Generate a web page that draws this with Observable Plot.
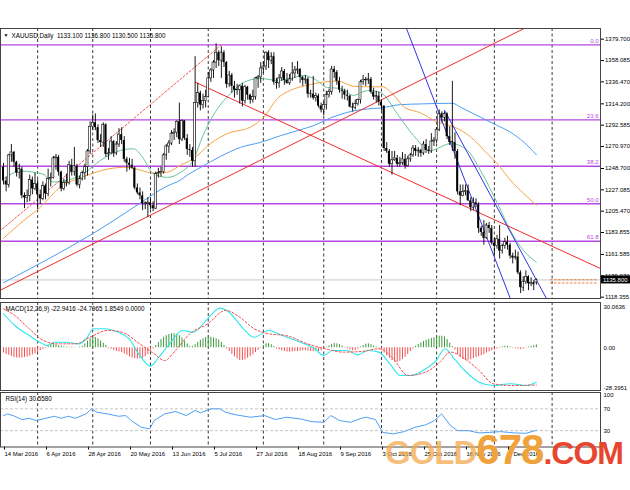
<!DOCTYPE html>
<html><head><meta charset="utf-8">
<script src="https://cdn.jsdelivr.net/npm/d3@7"></script>
<script src="https://cdn.jsdelivr.net/npm/@observablehq/plot@0.6"></script>
<style>
html,body{margin:0;padding:0;background:#fff;}
#wrap{position:relative;width:630px;height:490px;overflow:hidden;background:#fff;}
.pane{position:absolute;left:0;}
#wm{position:absolute;left:385px;top:429px;font-family:"Liberation Sans",Arial,sans-serif;font-weight:bold;white-space:nowrap;line-height:1;letter-spacing:-1px;}
</style></head><body>
<div id="wrap">
 <div class="pane" id="p1" style="top:28px"></div>
 <div class="pane" id="p2" style="top:300px"></div>
 <div class="pane" id="p3" style="top:391px"></div>
 <div id="wm"><span style="color:rgba(242,170,80,0.75);font-size:33px">GOLD</span><span style="color:#f0a23c;font-size:42px">678</span><span style="color:#e8452e;font-size:32px">.COM</span></div>
</div>
<script>
// ---------- data: daily XAUUSD candles, index 0 = 14 Mar 2016 ----------
const open = [1250,1236,1232,1262,1265,1255,1244,1248,1221,1219,
1221,1237,1228,1233,1222,1218,1231,1223,1238,1239,
1259,1260,1245,1228,1234,1234,1252,1245,1251,1232,
1238,1244,1250,1266,1291,1295,1290,1277,1275,1293,
1263,1264,1276,1264,1273,1283,1277,1258,1254,1252,
1249,1229,1224,1221,1213,1213,1214,1211,1208,1243,
1244,1245,1262,1271,1274,1284,1285,1296,1278,1297,
1279,1268,1267,1256,1315,1325,1313,1317,1321,1340,
1348,1356,1366,1358,1366,1356,1334,1343,1332,1328,
1328,1332,1317,1331,1323,1318,1321,1340,1341,1350,
1352,1366,1358,1362,1336,1335,1340,1347,1338,1335,
1339,1345,1348,1349,1341,1338,1339,1324,1324,1320,
1322,1312,1308,1313,1323,1326,1349,1346,1337,1328,
1327,1323,1322,1311,1310,1314,1318,1336,1338,1338,
1339,1326,1321,1322,1316,1312,1269,1266,1253,1257,
1259,1253,1254,1258,1251,1258,1262,1269,1266,1267,
1264,1273,1267,1266,1276,1277,1288,1304,1300,1304,
1281,1275,1275,1266,1225,1221,1225,1226,1216,1209,
1214,1212,1188,1184,1178,1191,1188,1173,1170,1177,
1165,1170,1174,1171,1160,1158,1159,1143,1128,1134,
1139,1132,1133,1133.1];
const high = [1254,1240,1263,1273,1266,1256,1253,1250,1224,1227,
1242,1240,1244,1237,1227,1235,1233,1248,1244,1261,
1263,1262,1246,1238,1243,1256,1258,1270,1253,1241,
1246,1253,1268,1296,1303,1304,1293,1283,1295,1294,
1269,1281,1277,1276,1289,1290,1281,1260,1259,1258,
1250,1233,1229,1225,1215,1219,1219,1215,1245,1249,
1250,1264,1273,1277,1287,1289,1297,1315,1298,1297,
1283,1273,1270,1362,1335,1327,1324,1328,1346,1350,
1358,1375,1368,1372,1368,1357,1347,1345,1337,1334,
1333,1335,1333,1332,1324,1328,1341,1343,1356,1357,
1367,1368,1366,1366,1340,1344,1351,1349,1345,1344,
1356,1352,1357,1350,1342,1343,1341,1328,1342,1325,
1324,1315,1316,1327,1329,1352,1352,1348,1341,1332,
1329,1328,1323,1315,1318,1319,1338,1343,1341,1345,
1341,1330,1327,1326,1318,1312,1275,1268,1266,1266,
1262,1260,1265,1263,1261,1264,1272,1272,1270,1268,
1276,1278,1271,1284,1280,1290,1308,1306,1306,1305,
1291,1337,1285,1268,1232,1232,1232,1232,1219,1219,
1218,1214,1190,1196,1193,1194,1191,1178,1181,1191,
1172,1178,1180,1173,1163,1166,1164,1145,1139,1145,
1140,1138,1135,1136.8];
const low = [1232,1225,1229,1255,1250,1240,1238,1218,1208,1214,
1215,1222,1226,1207,1212,1216,1217,1220,1230,1238,
1247,1241,1225,1226,1230,1232,1241,1241,1230,1228,
1236,1237,1241,1263,1287,1287,1274,1270,1270,1260,
1257,1263,1260,1262,1270,1273,1255,1245,1247,1248,
1227,1222,1217,1206,1207,1199,1207,1205,1207,1239,
1240,1243,1257,1264,1272,1277,1280,1273,1276,1277,
1262,1260,1250,1250,1310,1307,1309,1310,1320,1336,
1340,1350,1352,1340,1351,1330,1331,1325,1320,1323,
1314,1311,1314,1318,1314,1315,1318,1330,1335,1345,
1348,1350,1354,1333,1329,1330,1337,1333,1334,1333,
1337,1340,1344,1335,1332,1334,1320,1320,1318,1316,
1310,1305,1302,1308,1320,1323,1340,1333,1325,1319,
1318,1317,1310,1306,1308,1312,1314,1333,1332,1334,
1324,1318,1315,1312,1307,1266,1264,1250,1242,1256,
1250,1250,1252,1248,1250,1255,1260,1261,1260,1260,
1262,1264,1263,1264,1271,1274,1286,1295,1296,1278,
1272,1266,1258,1222,1211,1220,1221,1215,1205,1206,
1209,1183,1180,1171,1177,1183,1171,1161,1167,1157,
1162,1167,1166,1157,1152,1156,1141,1122,1124,1131,
1125,1129,1125,1130.5];
const close = [1236,1232,1262,1265,1255,1244,1248,1221,1219,1221,
1237,1228,1233,1222,1218,1231,1223,1238,1239,1259,
1260,1245,1228,1234,1234,1252,1245,1251,1232,1238,
1244,1250,1266,1291,1295,1290,1277,1275,1293,1263,
1264,1276,1264,1273,1283,1277,1258,1254,1252,1249,
1229,1224,1221,1213,1213,1214,1211,1208,1243,1244,
1245,1262,1271,1274,1284,1285,1296,1278,1297,1279,
1268,1267,1256,1315,1325,1313,1317,1321,1340,1348,
1356,1366,1358,1366,1356,1334,1343,1332,1328,1328,
1332,1317,1331,1323,1318,1321,1340,1341,1350,1352,
1366,1358,1362,1336,1335,1340,1347,1338,1335,1339,
1345,1348,1349,1341,1338,1339,1324,1324,1320,1322,
1312,1308,1313,1323,1326,1349,1346,1337,1328,1327,
1323,1322,1311,1310,1314,1318,1336,1338,1338,1339,
1326,1321,1322,1316,1312,1269,1266,1253,1257,1259,
1253,1254,1258,1251,1258,1262,1269,1266,1267,1264,
1273,1267,1266,1276,1277,1288,1304,1300,1304,1281,
1275,1275,1266,1225,1221,1225,1226,1216,1209,1214,
1212,1188,1184,1178,1191,1188,1173,1170,1177,1165,
1170,1174,1171,1160,1158,1159,1143,1128,1134,1139,
1132,1133,1131,1135.8];

// moving averages: [bar index, price]
const maGreen = [[0,1238],[6.5,1246],[15,1243],[19,1235],[24,1236.5],[30.5,1243.5],[37,1257],[44.6,1267],[49.5,1268.7],[53,1260],[57,1243.5],[62.5,1239.7],[67.4,1244.7],[72.4,1258],[76,1282],[80,1303],[86.5,1324.7],[91.4,1335.8],[97.9,1339.9],[104.4,1337.9],[109.3,1339.9],[114.3,1342.9],[118.1,1339.9],[123.4,1330.8],[128.4,1329.8],[133.3,1322.7],[138.7,1327.7],[143.6,1325.7],[150,1304.2],[156.2,1282.1],[162.7,1266.9],[165.3,1269],[170.3,1274],[176.8,1266.9],[181.7,1246.7],[188.2,1213.2],[193.1,1185.9],[198.1,1165.6],[203,1153.8]];
const maOrange = [[0,1178],[7.7,1196],[14.1,1209.5],[21.7,1230],[28,1238],[33.1,1243],[39.5,1248],[47.1,1250],[52.2,1247],[57.3,1244],[62.4,1245],[67.4,1252],[72.5,1259],[78.9,1274],[85.2,1284],[94.1,1290.7],[99.2,1300.8],[104.3,1319.5],[109.3,1327.9],[115.7,1333],[122,1336.3],[127.1,1337.3],[133.5,1332],[138.6,1331.5],[144.3,1331.5],[148.7,1323],[152.5,1311.2],[158.9,1305],[165.2,1295.9],[171.6,1290.9],[177.9,1280.8],[184.2,1264],[188,1253.8],[193.1,1236.9],[198.2,1223.4],[203,1211.5]];
const maBlue = [[0,1133],[42,1196],[49.7,1209.5],[62.4,1231],[67.4,1237],[70,1242],[75.1,1249.8],[82.7,1261],[90.3,1270.1],[97.9,1275.2],[105.5,1281.9],[111.9,1287],[118.1,1292.1],[124.6,1299.9],[131,1305.6],[138.6,1309],[143.6,1310],[151.2,1313.4],[158.9,1314.1],[171,1314.8],[174.1,1310.8],[181.7,1300.7],[188.1,1292.3],[193.1,1285.5],[198.2,1275.4],[203,1262.6]];

// drawn objects: [bar index, price] end points
const redUp = [[-1.2,1125.4],[200,1392.8]];
const redDown = [[73.1,1336.1],[227.4,1147.4]];
const redDotted = [[-61,1052],[83,1374]];
const blueChan1 = [[152,1401],[196,1096.7]];
const blueChan2 = [[168,1307.7],[210,1101.5]];

// Fibonacci levels
const fibLabels = ["0.0","23.6","38.2","50.0","61.8"];
const fibPrices = [1374.0,1298.0,1251.0,1213.0,1175.0];

// price axis
const priceTicks = [1379.700,1358.085,1336.470,1314.200,1292.585,1270.970,1248.700,1227.085,1205.470,1183.855,1161.585,1139.970,1118.355];
const lastPrice = 1135.8;
const markPrices = [1136.0,1132.7];
const header = "XAUUSD,Daily  1133.100 1136.800 1130.500 1135.800";

// vertical grid (month separators) and date labels
const gridIdx = [13,34,56,78,99,122,144,165,187,209];
const dateIdx = [0,16,32,48,64,80,96,112,128,144,160,176,192];
const dateLabels = ["14 Mar 2016","6 Apr 2016","28 Apr 2016","20 May 2016","13 Jun 2016","5 Jul 2016","27 Jul 2016","18 Aug 2016","9 Sep 2016","3 Oct 2016","25 Oct 2016","16 Nov 2016","8 Dec 2016"];

// MACD(12,26,9)
const macdMain = [[0,22.6],[4.3,14.8],[9.8,8.1],[13.8,3.7],[16.5,1.5],[19.3,3.7],[23.4,3.7],[28.8,2.6],[31.5,6.0],[34.2,12.6],[38.3,12.6],[43.8,10.3],[47.8,6.0],[51.9,-5.1],[56,-12.2],[58.7,-7.3],[62.8,1.5],[68.2,11.5],[72.3,10.3],[77.7,19.2],[82.5,26.3],[85.9,23.6],[91.4,12.6],[95.5,7.0],[100.9,11.5],[106.3,8.1],[113.1,3.7],[118.6,-0.7],[122,-5.1],[125.4,-1.8],[130.8,-1.8],[134.9,-4.7],[139,-1.8],[143.1,-2.9],[147.2,-10.7],[151.2,-18.4],[155.3,-18.4],[160.8,-14],[164.8,-8.5],[168.2,-0.7],[171.7,-7.3],[175.7,-15.1],[181.2,-22.9],[186.6,-25.1],[193.4,-23.9],[198.9,-25.1],[203,-22.9416]];
const macdSignal = [[0,25.9],[4.3,21.4],[9.8,12.6],[15.2,4.8],[20.6,2.6],[27.4,2.6],[32.9,7.0],[39.7,11.5],[45.1,10.3],[51.9,2.6],[57.4,-4.0],[61.4,-8.5],[65.5,-1.8],[71,9.3],[77.8,15.9],[84.6,24.8],[90,20.3],[95.5,12.6],[100.9,9.3],[107.7,8.1],[115.8,2.6],[122.7,-0.7],[129.5,-2.9],[136.3,-2.5],[143.1,-0.7],[148.5,-7.3],[154,-18.4],[160.8,-16.2],[166.2,-9.6],[170.3,-2.9],[175.7,-7.3],[181.2,-15.1],[186.6,-23.9],[193.4,-25.1],[203,-24.7965]];
const macdHist = [
-3.5,-4.5,-5.0,-5.8,-6.5,-6.8,-6.9,-6.8,-6.5,-6.2,
-5.6,-4.8,-4.0,-3.0,-2.0,-1.2,-0.4,1.5,2.2,2.5,
2.0,1.5,1.0,0.6,0.4,0.3,0.4,0.2,0.1,0.5,
1.0,2.5,4.5,6.0,7.0,6.8,6.0,4.5,3.0,1.5,
-0.5,-1.0,-1.8,-2.5,-2.8,-3.2,-4.0,-5.0,-6.0,-6.8,
-7.3,-7.5,-7.3,-7.0,-6.0,-4.5,-2.5,-0.8,1.5,3.5,
5.5,7.0,8.0,8.8,9.3,9.3,9.0,8.0,6.5,4.5,
2.5,1.0,0.8,2.0,3.5,5.0,6.0,6.8,7.2,7.0,
6.5,6.0,5.2,3.5,1.5,-0.8,-2.5,-4.5,-6.0,-7.5,
-8.5,-8.5,-8.0,-7.0,-6.0,-4.8,-3.2,-1.8,-0.5,1.5,
2.6,2.8,2.0,0.8,-0.8,-1.5,-2.0,-2.5,-2.8,-2.9,
-2.8,-2.5,-2.5,-2.3,-2.0,-2.0,-2.3,-2.5,-2.6,-2.5,
-2.5,-2.0,-1.2,0.3,1.2,2.2,2.8,2.6,2.0,1.2,
0.2,-0.8,-1.5,-2.0,-1.8,-1.0,0.5,1.5,2.4,2.6,
2.0,1.2,0.5,-0.6,-1.5,-3.5,-5.5,-7.0,-8.5,-9.5,
-9.6,-9.0,-7.8,-6.3,-4.5,-2.5,-0.8,1.0,2.2,3.3,
4.2,5.0,5.6,6.2,6.7,7.2,7.7,7.7,7.2,5.5,
3.0,0.8,-1.5,-4.5,-6.5,-7.8,-8.5,-8.3,-8.0,-7.2,
-6.5,-6.0,-5.2,-4.5,-3.5,-2.8,-2.0,-1.5,-0.8,-0.3,
0.6,1.0,0.9,0.5,-0.3,-0.6,-0.9,-1.2,-0.8,-0.2,
0.5,0.9,1.3,1.8549];
const macdTicks = [30.0636, 0, -28.3951];
const macdTickLabels = ["30.0636","0.00","-28.3951"];
const macdTitle = "MACD(12,26,9) -22.9416 -24.7965 1.8549 0.0000";

// RSI(14)
const rsi = [[0,57.7],[1.6,60.8],[4.3,56.4],[7,50.3],[9.8,52.7],[12.5,48.5],[15.2,51.6],[19.3,56.4],[22,52.7],[24.7,56.4],[27.4,52.7],[31.5,60.8],[33.5,70],[35.6,63.8],[39.6,60.8],[43.8,56.4],[46.5,57.7],[49.2,46.6],[52.6,36.1],[55.7,33.2],[57.4,48.5],[61.4,60.8],[65.5,65.1],[69.6,57.7],[73,66.9],[75,62.7],[79.1,70],[82.5,70],[84.6,63.8],[88.6,59],[94.1,54.6],[99.5,57.7],[103.6,50.3],[107.7,54.6],[113.1,51.6],[117.2,46.6],[122,45.3],[124.7,57.7],[128.1,48.5],[132.2,45.3],[136.3,52.7],[138.3,54.6],[141.7,50.3],[144.4,26.9],[148.5,24],[152.6,28.2],[156.7,36.1],[160.8,40.6],[164.2,48.5],[166.9,60.8],[170.3,39.3],[173,30],[177.1,30],[181.2,25.8],[185.3,26.9],[189.3,28.2],[194.8,25.8],[198.9,25.1],[203,30.558]];
const rsiLevels = [70, 30];
const rsiTicks = [100, 70, 30, 0];
const rsiTitle = "RSI(14) 30.5580";

// ---------- drawing ----------
const bars = close.map((c, i) => ({i, o: open[i], h: high[i], l: low[i], c}));
const fib = fibLabels.map((t, k) => ({t, p: fibPrices[k]}));
const hist = macdHist.map((v, i) => ({i, v}));
const xDom = [-1.143, 227.43];
const font = "'Liberation Sans', Arial, sans-serif";
const base = {width: 630, marginLeft: 0, marginRight: 30,
  x: {domain: xDom, axis: null},
  style: {fontFamily: font, fontSize: "6px", background: "none", overflow: "visible", color: "#000"}};
const px = d => d[0], py = d => d[1];
const purple = "#b548e4";
const grid = Plot.ruleX(gridIdx, {x: d => d, stroke: "#3a3a3a", strokeDasharray: "3,2.5", strokeWidth: 1});

const p1 = Plot.plot({...base, height: 270, marginTop: 0, marginBottom: 0,
  y: {domain: [1117.0, 1390.54], axis: null},
  marks: [
    grid,
    Plot.ruleY(fib, {y: "p", stroke: purple, strokeWidth: 1.3}),
    Plot.ruleY([lastPrice], {stroke: "#c8c8c8"}),
    Plot.ruleY(markPrices, {y: d => d, x1: 208.4, x2: 226.6, stroke: "#f07a3a", strokeDasharray: "2.5,1.5"}),
    Plot.line(maBlue, {x: px, y: py, stroke: "#4a9ef2", strokeWidth: 1, curve: "monotone-x"}),
    Plot.line(maOrange, {x: px, y: py, stroke: "#f5a444", strokeWidth: 1, curve: "monotone-x"}),
    Plot.line(maGreen, {x: px, y: py, stroke: "#67c595", strokeWidth: 1, curve: "monotone-x"}),
    Plot.line(redUp, {x: px, y: py, stroke: "#f22a2a", strokeWidth: 1, clip: true}),
    Plot.line(redDown, {x: px, y: py, stroke: "#f22a2a", strokeWidth: 1, clip: true}),
    Plot.line(redDotted, {x: px, y: py, stroke: "#f25050", strokeWidth: 1, strokeDasharray: "2,2", clip: true}),
    Plot.line(blueChan1, {x: px, y: py, stroke: "#3434e6", strokeWidth: 1, clip: true}),
    Plot.line(blueChan2, {x: px, y: py, stroke: "#3434e6", strokeWidth: 1, clip: true}),
    Plot.ruleX(bars, {x: "i", y1: "l", y2: "h", stroke: "#000", strokeWidth: 0.9}),
    Plot.rect(bars.filter(d => d.c < d.o), {x1: d => d.i - 0.38, x2: d => d.i + 0.38, y1: "o", y2: "c", fill: "#000"}),
    Plot.rect(bars.filter(d => d.c >= d.o), {x1: d => d.i - 0.38, x2: d => d.i + 0.38, y1: "o", y2: d => d.c === d.o ? d.c + 0.5 : d.c, fill: "#fff", stroke: "#000", strokeWidth: 0.6}),
    Plot.text(fib, {y: "p", text: "t", frameAnchor: "right", textAnchor: "end", dx: -2, dy: -4, fill: purple, fontSize: 6}),
    Plot.text([header], {frameAnchor: "top-left", textAnchor: "start", lineAnchor: "middle", dx: 11, dy: 7, fontSize: 6.3}),
    Plot.text(["▼"], {frameAnchor: "top-left", textAnchor: "start", lineAnchor: "middle", dx: 3, dy: 7, fontSize: 5}),
    Plot.axisY({ticks: priceTicks, anchor: "right", tickSize: 3, tickPadding: 1.5, fontSize: 6, tickFormat: d => d.toFixed(3)}),
    Plot.frame({stroke: "#444"})
  ]});
// current price tag, placed through the plot's own y scale
{
  const y = p1.scale("y").apply(lastPrice);
  const x = p1.scale("x").apply(xDom[1]);
  const g = d3.select(p1).append("g").attr("text-anchor", "start");
  g.append("rect").attr("x", x + 1).attr("y", y - 4).attr("width", 29).attr("height", 8).attr("fill", "#000");
  g.append("text").attr("x", x + 3).attr("y", y).attr("dy", "0.35em").attr("fill", "#fff").attr("text-anchor", "start")
    .attr("font-size", 6).attr("font-family", font).text(lastPrice.toFixed(3));
}
document.getElementById("p1").append(p1);

const p2 = Plot.plot({...base, height: 90, marginTop: 2, marginBottom: 0,
  y: {domain: [-28.3951, 30.0636], axis: null},
  marks: [
    grid,
    Plot.ruleX(hist, {x: "i", y1: 0, y2: "v", stroke: d => d.v >= 0 ? "#3b9a3b" : "#f25252", strokeWidth: 1}),
    Plot.line(macdMain, {x: px, y: py, stroke: "#2fe6ee", strokeWidth: 1.1, curve: "monotone-x"}),
    Plot.line(macdSignal, {x: px, y: py, stroke: "#f24a4a", strokeWidth: 1, strokeDasharray: "2,2", curve: "monotone-x"}),
    Plot.text([macdTickLabels[0]], {frameAnchor: "top-right", textAnchor: "start", lineAnchor: "top", dx: 3, dy: 2}),
    Plot.text([macdTicks[1]], {y: d => d, text: d => macdTickLabels[1], frameAnchor: "right", textAnchor: "start", dx: 3}),
    Plot.text([macdTickLabels[2]], {frameAnchor: "bottom-right", textAnchor: "start", lineAnchor: "bottom", dx: 3, dy: -1}),
    Plot.text([macdTitle], {frameAnchor: "top-left", textAnchor: "start", lineAnchor: "middle", dx: 5, dy: 6, fontSize: 6.3}),
    Plot.frame({stroke: "#444"})
  ]});
document.getElementById("p2").append(p2);

const p3 = Plot.plot({...base, height: 72, marginTop: 1, marginBottom: 16.5,
  y: {domain: [0, 100], axis: null},
  marks: [
    grid,
    Plot.ruleY(rsiLevels, {y: d => d, stroke: "#c4c4c4", strokeDasharray: "3,2"}),
    Plot.line(rsi, {x: px, y: py, stroke: "#4f9ff5", strokeWidth: 1}),
    Plot.text([rsiTicks[0]], {frameAnchor: "top-right", textAnchor: "start", lineAnchor: "top", dx: 3, dy: 0, text: d => String(d)}),
    Plot.text(rsiTicks.slice(1, 3), {y: d => d, text: d => String(d), frameAnchor: "right", textAnchor: "start", dx: 3}),
    Plot.text([rsiTicks[3]], {frameAnchor: "bottom-right", textAnchor: "start", lineAnchor: "bottom", dx: 3, dy: 0, text: d => String(d)}),
    Plot.text([rsiTitle], {frameAnchor: "top-left", textAnchor: "start", lineAnchor: "middle", dx: 5, dy: 6, fontSize: 6.3}),
    Plot.axisX({ticks: dateIdx, anchor: "bottom", tickSize: 3, tickPadding: 1.5, fontSize: 6, textAnchor: "start", dx: 1,
      tickFormat: d => dateLabels[dateIdx.indexOf(d)]}),
    Plot.frame({stroke: "#444"})
  ]});
document.getElementById("p3").append(p3);
</script></body></html>
